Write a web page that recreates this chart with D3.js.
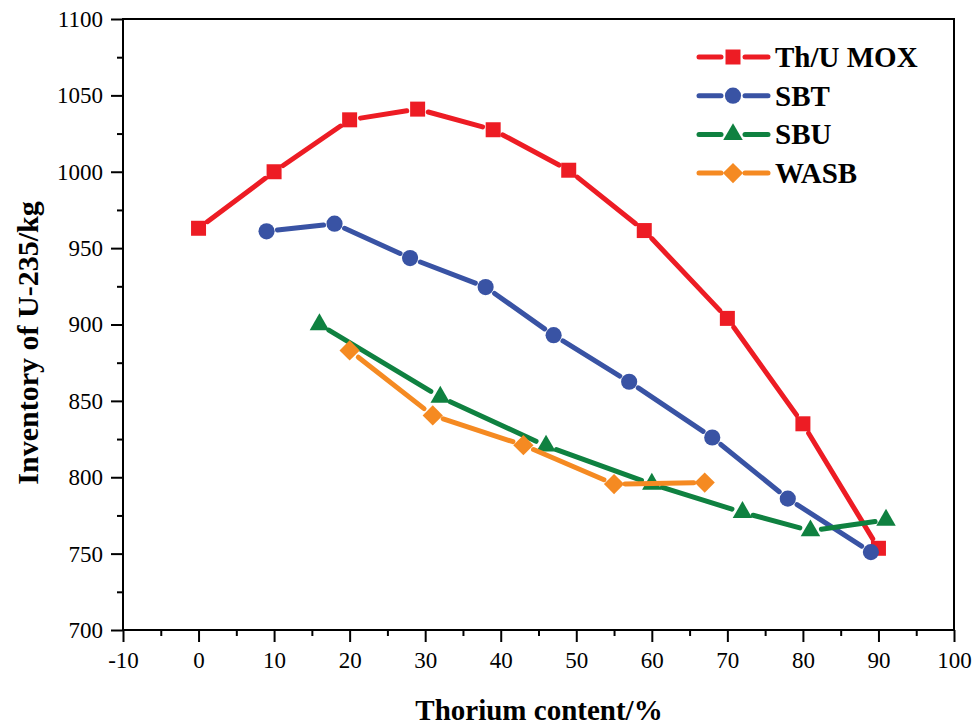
<!DOCTYPE html>
<html>
<head>
<meta charset="utf-8">
<script src="https://cdn.jsdelivr.net/npm/d3@7"></script>
<style>
  body { margin: 0; background: #fff; }
  svg text { font-family: "Liberation Serif", "Times New Roman", serif; fill: #000; }
</style>
</head>
<body>
<div id="chart"></div>
<script>
/*global d3*/
(function () {
   "use strict";

   // data
   var seriesNames = ["Th/U MOX", "SBT", "SBU", "WASB"],
      moxX = [0, 10, 20, 29, 39, 49, 59, 70, 80, 90],
      moxY = [963, 1000, 1034, 1041, 1027.5, 1001, 961.5, 904, 835, 753.5],
      sbtX = [9, 18, 28, 38, 47, 57, 68, 78, 89],
      sbtY = [961, 966, 943.5, 924.5, 893, 862.5, 826, 786, 751],
      sbuX = [16, 32, 46, 60, 72, 81, 91],
      sbuY = [900, 852.5, 820.5, 795.5, 777, 765, 772],
      wasbX = [20, 31, 43, 55, 67],
      wasbY = [883, 840.5, 821, 795.5, 796.5],
      xTicks = [-10, 0, 10, 20, 30, 40, 50, 60, 70, 80, 90, 100],
      yTicks = [700, 750, 800, 850, 900, 950, 1000, 1050, 1100];

   var width = 977,
      height = 725,
      left = 123,
      right = 954,
      top = 19,
      bottom = 630;

   var x = d3.scaleLinear().domain([-10, 100]).range([left, right]),
      y = d3.scaleLinear().domain([700, 1100]).range([bottom, top]);

   function zip(xs, ys) {
      return xs.map(function (v, i) { return { x: v, y: ys[i] }; });
   }

   var series = [
      { name: seriesNames[0], color: "#ED1C24", shape: "square", pts: zip(moxX, moxY) },
      { name: seriesNames[1], color: "#3953A4", shape: "circle", pts: zip(sbtX, sbtY) },
      { name: seriesNames[2], color: "#0F8140", shape: "triangle", pts: zip(sbuX, sbuY) },
      { name: seriesNames[3], color: "#F58A22", shape: "diamond", pts: zip(wasbX, wasbY) }
   ];

   var symbols = {
      square: { type: d3.symbolSquare, size: 225, rot: 0 },
      circle: { type: d3.symbolCircle, size: 205, rot: 0 },
      triangle: { type: d3.symbolTriangle, size: 165, rot: 0 },
      diamond: { type: d3.symbolSquare, size: 205, rot: 45 }
   };

   var svg = d3.select("#chart").append("svg")
      .attr("width", width)
      .attr("height", height);

   // frame
   svg.append("rect")
      .attr("x", left).attr("y", top)
      .attr("width", right - left).attr("height", bottom - top)
      .attr("fill", "none").attr("stroke", "#000").attr("stroke-width", 2);

   // axes, major and minor ticks
   var xAxis = d3.axisBottom(x).tickValues(xTicks).tickFormat(String).tickSize(12).tickSizeOuter(0).tickPadding(4),
      xMinor = d3.axisBottom(x).tickValues(d3.range(-5, 100, 10)).tickSize(6).tickSizeOuter(0).tickFormat(""),
      yAxis = d3.axisLeft(y).tickValues(yTicks).tickFormat(String).tickSize(12).tickSizeOuter(0).tickPadding(8),
      yMinor = d3.axisLeft(y).tickValues(d3.range(725, 1100, 50)).tickSize(6).tickSizeOuter(0).tickFormat("");

   function styleAxis(g) {
      g.select(".domain").remove();
      g.selectAll(".tick line").attr("stroke", "#000").attr("stroke-width", 2);
      g.selectAll(".tick text").style("font-size", "23px").attr("fill", "#000");
   }

   svg.append("g").attr("transform", "translate(0," + bottom + ")").call(xAxis).call(styleAxis)
      .selectAll(".tick text").attr("dy", "0.95em");
   svg.append("g").attr("transform", "translate(0," + bottom + ")").call(xMinor).call(styleAxis);
   svg.append("g").attr("transform", "translate(" + left + ",0)").call(yAxis).call(styleAxis);
   svg.append("g").attr("transform", "translate(" + left + ",0)").call(yMinor).call(styleAxis);

   // axis titles
   svg.append("text")
      .attr("x", 539).attr("y", 720)
      .attr("text-anchor", "middle")
      .style("font-size", "29px").style("font-weight", "bold")
      .text("Thorium content/%");

   svg.append("text")
      .attr("transform", "translate(38,343) rotate(-90)")
      .attr("text-anchor", "middle")
      .style("font-size", "30px").style("font-weight", "bold")
      .text("Inventory of U-235/kg");

   // line segments stop short of each marker, Origin style
   function gapSegments(pts, gap) {
      var segs = [], i, x1, y1, x2, y2, dx, dy, len, ux, uy;
      for (i = 0; i < pts.length - 1; i++) {
         x1 = x(pts[i].x); y1 = y(pts[i].y);
         x2 = x(pts[i + 1].x); y2 = y(pts[i + 1].y);
         dx = x2 - x1; dy = y2 - y1;
         len = Math.sqrt(dx * dx + dy * dy);
         if (len > 2 * gap) {
            ux = dx / len; uy = dy / len;
            segs.push([x1 + ux * gap, y1 + uy * gap, x2 - ux * gap, y2 - uy * gap]);
         }
      }
      return segs;
   }

   function marker(sel, s) {
      var sym = symbols[s.shape];
      return sel.append("path")
         .attr("d", d3.symbol().type(sym.type).size(sym.size)())
         .attr("fill", s.color);
   }

   series.forEach(function (s) {
      var g = svg.append("g");
      g.selectAll("line").data(gapSegments(s.pts, 11)).enter().append("line")
         .attr("x1", function (d) { return d[0]; })
         .attr("y1", function (d) { return d[1]; })
         .attr("x2", function (d) { return d[2]; })
         .attr("y2", function (d) { return d[3]; })
         .attr("stroke", s.color)
         .attr("stroke-width", 5)
         .attr("stroke-linecap", "round");
      s.pts.forEach(function (p) {
         marker(g, s).attr("transform", "translate(" + x(p.x) + "," + y(p.y) + ") rotate(" + symbols[s.shape].rot + ")");
      });
   });

   // legend
   var legend = svg.append("g");
   series.forEach(function (s, i) {
      var ly = 57 + i * 38.7,
         row = legend.append("g");
      row.append("line").attr("x1", 699).attr("x2", 721).attr("y1", ly).attr("y2", ly)
         .attr("stroke", s.color).attr("stroke-width", 5).attr("stroke-linecap", "round");
      row.append("line").attr("x1", 745).attr("x2", 768).attr("y1", ly).attr("y2", ly)
         .attr("stroke", s.color).attr("stroke-width", 5).attr("stroke-linecap", "round");
      marker(row, s).attr("transform", "translate(733," + ly + ") rotate(" + symbols[s.shape].rot + ")");
      row.append("text")
         .attr("x", 775).attr("y", ly).attr("dy", "0.34em")
         .style("font-size", "29px").style("font-weight", "bold")
         .text(s.name);
   });
}());
</script>
</body>
</html>
